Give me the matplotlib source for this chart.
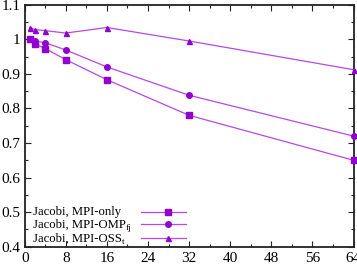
import matplotlib
matplotlib.use("Agg")
import matplotlib.pyplot as plt
from matplotlib.ticker import MultipleLocator
from matplotlib.lines import Line2D

x = [1, 2, 4, 8, 16, 32, 64]
mpi_only = [1.000, 0.987, 0.973, 0.941, 0.883, 0.780, 0.650]
mpi_omp = [1.000, 0.995, 0.990, 0.969, 0.920, 0.838, 0.720]
mpi_oss = [1.034, 1.028, 1.025, 1.018, 1.034, 0.995, 0.912]
label_main = ["Jacobi, MPI-only", "Jacobi, MPI-OMP", "Jacobi, MPI-OSS"]
label_sub = ["", "fj", "t"]
xticks = [0, 8, 16, 24, 32, 40, 48, 56, 64]
yticks = [0.4, 0.5, 0.6, 0.7, 0.8, 0.9, 1, 1.1]
ytick_labels = ["0.4", "0.5", "0.6", "0.7", "0.8", "0.9", "1", "1.1"]

plt.rcParams['font.family'] = ['Liberation Serif', 'DejaVu Serif']

W, H = 357, 267
fig = plt.figure(figsize=(W / 100, H / 100), dpi=100)
ax = fig.add_axes([24.7 / W, 1 - 246.7 / H, (353.5 - 24.7) / W, (246.7 - 4.7) / H])

line_c = '#b548e6'
mark_c = '#9400d3'
styles = [('s', 4.0), ('o', 4.0), ('^', 3.6)]
series = [mpi_only, mpi_omp, mpi_oss]
for ys, (m, ms) in zip(series, styles):
    ax.plot(x, ys, color=line_c, lw=0.9, marker=m, ms=ms, mfc=mark_c, mec=mark_c, clip_on=False, zorder=3)

ax.set_xlim(0, 64)
ax.set_ylim(0.4, 1.1)
ax.set_xticks(xticks)
ax.set_xticklabels([str(t) for t in xticks])
ax.set_yticks(yticks)
ax.set_yticklabels(ytick_labels)
ax.xaxis.set_minor_locator(MultipleLocator(4))
ax.yaxis.set_minor_locator(MultipleLocator(0.05))
ax.tick_params(which='both', direction='in', top=True, right=True, labelsize=11, width=0.8, color='#222222')
ax.tick_params(axis='x', pad=4)
ax.tick_params(axis='y', pad=3)
ax.tick_params(which='major', length=4)
ax.tick_params(which='minor', length=2.5)
for s in ax.spines.values():
    s.set_linewidth(1.3)
    s.set_color('#222222')

# manual gnuplot-style key (text left, sample right)
renderer = fig.canvas.get_renderer()
row_y = [211.7, 224.3, 238.3]
for main, sub, yy, (m, ms) in zip(label_main, label_sub, row_y, styles):
    fy = 1 - yy / H
    t = fig.text(32.7 / W, 1 - (yy + 3.6) / H, main, fontsize=9.2, ha='left', va='baseline')
    if sub:
        bb = t.get_window_extent(renderer)
        fig.text((bb.x1 + 0.5) / W, 1 - (yy + 6.0) / H, sub, fontsize=6.6, ha='left', va='baseline')
    fig.add_artist(Line2D([141 / W, 186 / W], [fy, fy], color=line_c, lw=0.9))
    fig.add_artist(Line2D([168 / W], [fy], marker=m, ms=ms, mfc=mark_c, mec=mark_c, ls='none'))

fig.savefig('out.png', dpi=100)
